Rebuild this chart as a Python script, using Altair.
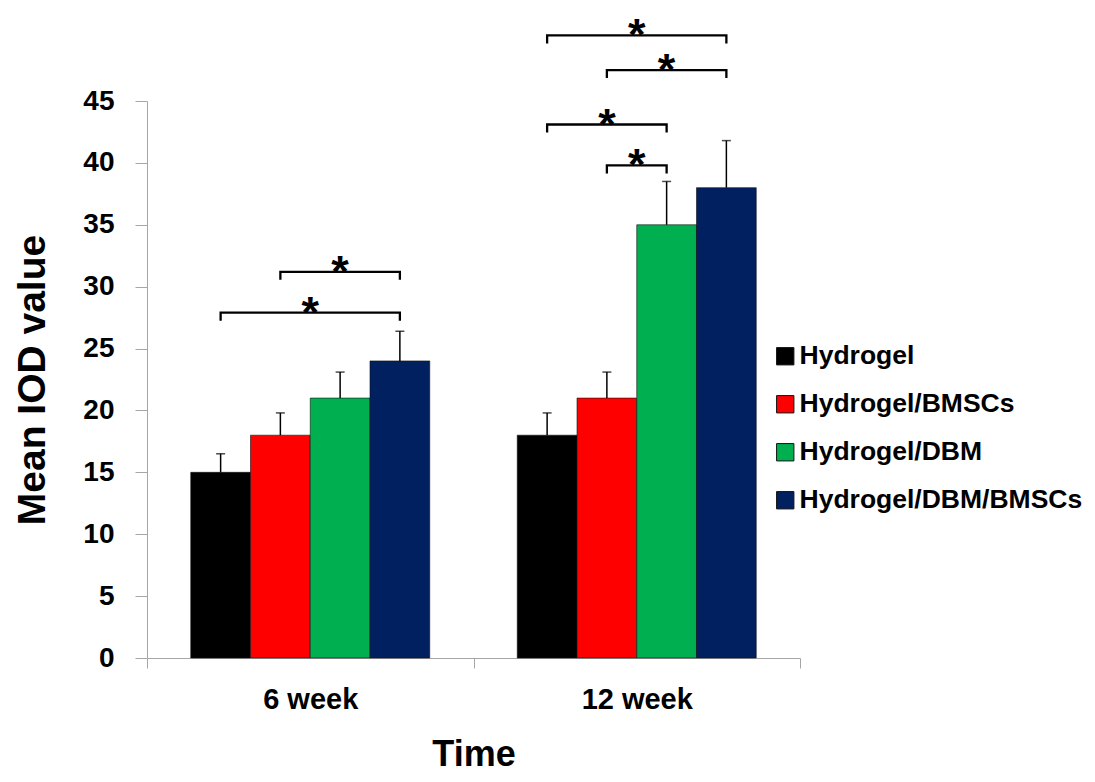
import altair as alt
import pandas as pd

# ---------------- data ----------------
times = ["6 week", "12 week"]
groups = ["Hydrogel", "Hydrogel/BMSCs", "Hydrogel/DBM", "Hydrogel/DBM/BMSCs"]
colors = ["#000000", "#FF0000", "#00B050", "#002060"]

mean_6 = [15, 18, 21, 24]
err_6 = [1.5, 1.8, 2.1, 2.4]
mean_12 = [18, 21, 35, 38]
err_12 = [1.8, 2.1, 3.5, 3.8]

y_ticks = [0, 5, 10, 15, 20, 25, 30, 35, 40, 45]

# significance brackets: time index, from group index, to group index, height
sig_time = [0, 0, 1, 1, 1, 1]
sig_from = [0, 1, 1, 0, 1, 0]
sig_to = [3, 3, 2, 2, 3, 3]
sig_height = [27.9, 31.2, 39.8, 43.1, 47.5, 50.3]
sig_label = ["*", "*", "*", "*", "*", "*"]

# ---------------- layout constants ----------------
BW = 0.183      # bar width as a fraction of one time band
DROP = 0.65     # bracket end drop (value units)
FONT = "Liberation Sans"
AXIS_GREY = "#A6A6A6"

# ---------------- tables ----------------
rows = []
for ti, (m, e) in enumerate([(mean_6, err_6), (mean_12, err_12)]):
    for gi, g in enumerate(groups):
        rows.append({"time": times[ti], "ti": ti, "group": g, "gi": gi,
                     "mean": m[gi], "upper": m[gi] + e[gi]})
bars_df = pd.DataFrame(rows)

br_rows = []
for k, (ti, a, b, h) in enumerate(zip(sig_time, sig_from, sig_to, sig_height)):
    for order, (gi, yv) in enumerate([(a, h - DROP), (a, h), (b, h), (b, h - DROP)]):
        br_rows.append({"id": k, "ord": order, "ti": ti, "gi": gi, "y": yv})
br_df = pd.DataFrame(br_rows)

star_df = pd.DataFrame({"ti": sig_time, "ga": sig_from, "gb": sig_to,
                        "h": sig_height, "label": sig_label})

# ---------------- scales & axes ----------------
xscale = alt.Scale(domain=[0, len(times)], nice=False, zero=False)
yscale = alt.Scale(domain=[0, 45], nice=False, zero=True)

label_expr = "".join(
    f"datum.value == {i + 0.5} ? '{t}' : " for i, t in enumerate(times)
) + "''"

xaxis = alt.Axis(
    values=[v / 2 for v in range(2 * len(times) + 1)],
    labelExpr=label_expr,
    labelOverlap=False,
    labelFlush=False,
    tickOpacity={"condition": {"test": "datum.value % 1 == 0", "value": 1}, "value": 0},
    grid=False,
    domainColor=AXIS_GREY,
    tickColor=AXIS_GREY,
    tickSize=10,
    labelFont=FONT,
    labelFontSize=29,
    labelFontWeight="bold",
    labelColor="black",
    labelPadding=17,
    title="Time",
    titleFont=FONT,
    titleFontSize=36,
    titleFontWeight="bold",
    titleColor="black",
    titlePadding=23,
)

yaxis = alt.Axis(
    values=y_ticks,
    grid=False,
    domainColor=AXIS_GREY,
    tickColor=AXIS_GREY,
    tickSize=12,
    labelFont=FONT,
    labelFontSize=28,
    labelFontWeight="bold",
    labelColor="black",
    labelPadding=21,
    title="Mean IOD value",
    titleFont=FONT,
    titleFontSize=39,
    titleFontWeight="bold",
    titleColor="black",
    titlePadding=30,
)

# ---------------- layers ----------------
bar_base = alt.Chart(bars_df).transform_calculate(
    xc=f"datum.ti + 0.5 + (datum.gi - 1.5) * {BW}",
    x0=f"datum.ti + 0.5 + (datum.gi - 2) * {BW}",
    x1=f"datum.ti + 0.5 + (datum.gi - 1) * {BW}",
)

bars = bar_base.mark_rect(stroke="#111111", strokeWidth=0.6).encode(
    x=alt.X("x0:Q", scale=xscale, axis=xaxis),
    x2="x1:Q",
    y=alt.Y("mean:Q", scale=yscale, axis=yaxis),
    y2=alt.datum(0),
    color=alt.Color(
        "group:N",
        scale=alt.Scale(domain=groups, range=colors),
        legend=alt.Legend(
            title=None,
            orient="none",
            legendX=625,
            legendY=242,
            symbolType="square",
            symbolSize=300,
            symbolStrokeWidth=1,
            labelFont=FONT,
            labelFontSize=26.5,
            labelFontWeight="bold",
            labelColor="black",
            labelOffset=1,
            rowPadding=21,
            labelLimit=400,
        ),
    ),
)

err_line = bar_base.mark_rule(color="black", strokeWidth=1.5).encode(
    x=alt.X("xc:Q", scale=xscale, axis=xaxis),
    y=alt.Y("mean:Q", scale=yscale, axis=yaxis),
    y2="upper:Q",
)

err_cap = bar_base.mark_tick(orient="horizontal", color="black", size=9,
                             thickness=1.5).encode(
    x=alt.X("xc:Q", scale=xscale, axis=xaxis),
    y=alt.Y("upper:Q", scale=yscale, axis=yaxis),
)

brackets = alt.Chart(br_df).transform_calculate(
    xb=f"datum.ti + 0.5 + (datum.gi - 1.5) * {BW}"
).mark_line(color="black", strokeWidth=2.3, strokeJoin="miter").encode(
    x=alt.X("xb:Q", scale=xscale, axis=xaxis),
    y=alt.Y("y:Q", scale=yscale, axis=yaxis),
    detail="id:N",
    order="ord:Q",
)

stars = alt.Chart(star_df).transform_calculate(
    xm=f"datum.ti + 0.5 + ((datum.ga + datum.gb) / 2 - 1.5) * {BW}"
).mark_text(font=FONT, fontSize=45, fontWeight="bold", color="black",
            baseline="alphabetic", dy=15).encode(
    x=alt.X("xm:Q", scale=xscale, axis=xaxis),
    y=alt.Y("h:Q", scale=yscale, axis=yaxis),
    text="label:N",
)

chart = alt.layer(bars, err_line, err_cap, brackets, stars).properties(
    width=653,
    height=557,
    autosize=alt.AutoSizeParams(type="none"),
    padding={"left": 139, "top": 93, "right": 285, "bottom": 116},
    background="white",
).configure_view(stroke=None)

chart.save("out.html", embed_options={"renderer": "svg", "actions": False})
